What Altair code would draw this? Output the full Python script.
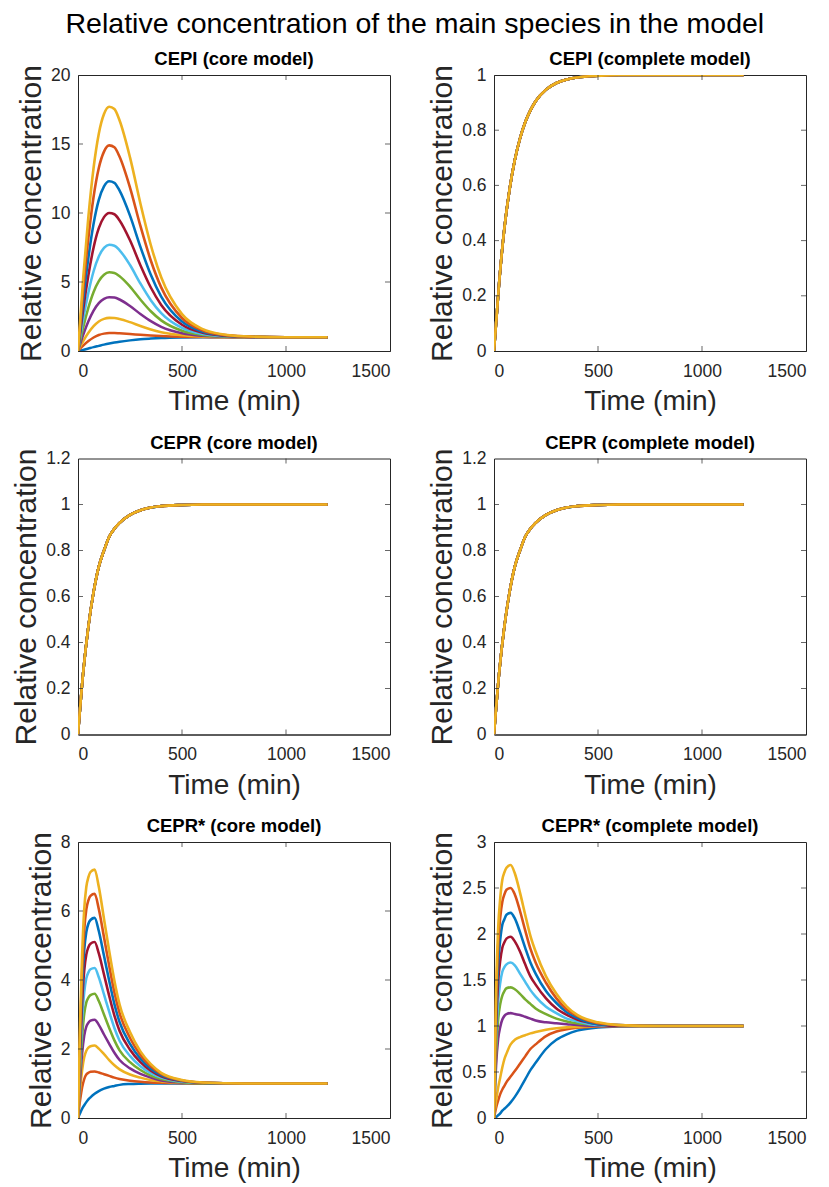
import altair as alt
import pandas as pd

# ---------------- data ----------------
SERIES = ["s01", "s02", "s03", "s04", "s05", "s06", "s07", "s08", "s09", "s10"]
COLORS = ["#0072BD", "#D95319", "#EDB120", "#7E2F8E", "#77AC30",
          "#4DBEEE", "#A2142F", "#0072BD", "#D95319", "#EDB120"]
WIDTHS = [2.5, 2.6, 2.7, 2.8, 3.0, 3.2, 3.4, 3.6, 3.8, 4.2]
X_TICKS = [0, 500, 1000, 1500]

# CEPI (core model)
T_CEPI_CORE = [0, 25, 50, 75, 100, 125, 150, 175, 200, 250, 300, 350, 400, 500, 600, 700, 800, 1000, 1200]
CEPI_CORE = [
    [0, 0.08, 0.18, 0.28, 0.37, 0.46, 0.54, 0.61, 0.67, 0.77, 0.85, 0.9, 0.94, 0.98, 0.995, 1, 1, 1, 1],
    [0, 0.39, 0.72, 0.98, 1.16, 1.26, 1.3, 1.3, 1.28, 1.23, 1.17, 1.12, 1.08, 1.03, 1.01, 1.0, 1.0, 1.0, 1.0],
    [0, 0.72, 1.32, 1.8, 2.14, 2.33, 2.4, 2.39, 2.32, 2.09, 1.81, 1.56, 1.36, 1.14, 1.05, 1.02, 1.01, 1.0, 1.0],
    [0, 1.17, 2.15, 2.93, 3.47, 3.78, 3.9, 3.87, 3.73, 3.26, 2.68, 2.16, 1.75, 1.29, 1.1, 1.03, 1.01, 1.0, 1.0],
    [0, 1.71, 3.14, 4.28, 5.07, 5.53, 5.7, 5.65, 5.42, 4.67, 3.73, 2.88, 2.22, 1.47, 1.16, 1.06, 1.02, 1.0, 1.0],
    [0, 2.31, 4.24, 5.78, 6.85, 7.47, 7.7, 7.63, 7.3, 6.23, 4.89, 3.68, 2.74, 1.67, 1.23, 1.08, 1.03, 1.0, 1.0],
    [0, 3.0, 5.5, 7.5, 8.9, 9.7, 10.0, 9.91, 9.46, 8.02, 6.22, 4.6, 3.34, 1.9, 1.32, 1.11, 1.04, 1.0, 1.0],
    [0, 3.69, 6.77, 9.23, 10.95, 11.93, 12.3, 12.19, 11.62, 9.81, 7.55, 5.52, 3.94, 2.13, 1.4, 1.14, 1.05, 1.0, 1.0],
    [0, 4.47, 8.2, 11.18, 13.26, 14.45, 14.9, 14.76, 14.07, 11.84, 9.06, 6.56, 4.61, 2.39, 1.49, 1.17, 1.06, 1.0, 1.0],
    [0, 5.31, 9.74, 13.28, 15.75, 17.17, 17.7, 17.53, 16.7, 14.03, 10.69, 7.68, 5.34, 2.67, 1.58, 1.2, 1.07, 1.0, 1.0],
]

# CEPI (complete model): all ten runs coincide
T_SAT = [0, 25, 50, 75, 100, 125, 150, 175, 200, 250, 300, 350, 400, 500, 600, 800, 1000, 1200]
CEPI_COMPLETE_RUN = [0, 0.25, 0.445, 0.586, 0.692, 0.77, 0.829, 0.872, 0.905, 0.947, 0.971, 0.984, 0.991, 0.997, 1, 1, 1, 1]
# CEPR (core and complete model): all ten runs coincide
CEPR_CORE_RUN = [0, 0.27, 0.47, 0.62, 0.73, 0.8, 0.86, 0.895, 0.92, 0.955, 0.975, 0.987, 0.993, 0.998, 1, 1, 1, 1]
CEPR_COMPLETE_RUN = [0, 0.27, 0.47, 0.62, 0.73, 0.8, 0.86, 0.895, 0.92, 0.955, 0.975, 0.987, 0.993, 0.998, 1, 1, 1, 1]

# CEPR* (core model)
T_CEPRS = [0, 10, 20, 30, 40, 50, 60, 80, 100, 125, 150, 175, 200, 250, 300, 350, 400, 500, 600, 800, 1000, 1200]
CEPRS_CORE = [
    [0, 0.14, 0.27, 0.37, 0.46, 0.54, 0.6, 0.7, 0.78, 0.85, 0.9, 0.93, 0.96, 0.985, 0.995, 1, 1, 1, 1, 1, 1, 1],
    [0, 0.51, 0.89, 1.13, 1.26, 1.31, 1.34, 1.35, 1.32, 1.27, 1.22, 1.17, 1.13, 1.08, 1.05, 1.03, 1.02, 1.01, 1.0, 1, 1, 1],
    [0, 0.8, 1.39, 1.76, 1.95, 2.04, 2.08, 2.1, 2.01, 1.85, 1.68, 1.53, 1.41, 1.26, 1.17, 1.1, 1.06, 1.02, 1.01, 1, 1, 1],
    [0, 1.08, 1.88, 2.39, 2.65, 2.76, 2.82, 2.85, 2.7, 2.42, 2.15, 1.89, 1.68, 1.44, 1.28, 1.17, 1.09, 1.03, 1.01, 1, 1, 1],
    [0, 1.37, 2.38, 3.02, 3.35, 3.49, 3.56, 3.6, 3.39, 3.0, 2.61, 2.25, 1.96, 1.62, 1.39, 1.23, 1.13, 1.04, 1.01, 1, 1, 1],
    [0, 1.65, 2.87, 3.65, 4.05, 4.22, 4.31, 4.35, 4.08, 3.58, 3.08, 2.61, 2.24, 1.8, 1.5, 1.3, 1.17, 1.05, 1.02, 1, 1, 1],
    [0, 1.94, 3.37, 4.28, 4.74, 4.95, 5.05, 5.1, 4.77, 4.16, 3.54, 2.97, 2.52, 1.98, 1.62, 1.37, 1.21, 1.07, 1.02, 1, 1, 1],
    [0, 2.2, 3.83, 4.87, 5.39, 5.63, 5.74, 5.8, 5.42, 4.7, 3.98, 3.3, 2.78, 2.15, 1.72, 1.43, 1.24, 1.08, 1.02, 1, 1, 1],
    [0, 2.47, 4.29, 5.46, 6.05, 6.31, 6.44, 6.5, 6.06, 5.24, 4.41, 3.64, 3.04, 2.32, 1.83, 1.5, 1.28, 1.09, 1.03, 1, 1, 1],
    [0, 2.74, 4.75, 6.05, 6.7, 6.98, 7.13, 7.2, 6.7, 5.77, 4.84, 3.98, 3.29, 2.49, 1.93, 1.56, 1.31, 1.1, 1.03, 1, 1, 1],
]

# CEPR* (complete model)
CEPRS_COMPLETE = [
    [0, 0.01, 0.03, 0.05, 0.08, 0.1, 0.12, 0.17, 0.23, 0.32, 0.42, 0.52, 0.6, 0.75, 0.85, 0.91, 0.95, 0.985, 0.995, 1, 1, 1],
    [0, 0.11, 0.19, 0.26, 0.31, 0.35, 0.39, 0.45, 0.51, 0.59, 0.67, 0.75, 0.8, 0.89, 0.94, 0.965, 0.98, 0.995, 1, 1, 1, 1],
    [0, 0.18, 0.33, 0.44, 0.55, 0.64, 0.7, 0.8, 0.85, 0.88, 0.9, 0.92, 0.935, 0.96, 0.975, 0.985, 0.99, 1, 1, 1, 1, 1],
    [0, 0.57, 0.86, 0.99, 1.07, 1.11, 1.13, 1.14, 1.13, 1.12, 1.1, 1.08, 1.06, 1.04, 1.03, 1.02, 1.01, 1.0, 1.0, 1, 1, 1],
    [0, 0.71, 1.07, 1.24, 1.33, 1.38, 1.41, 1.42, 1.4, 1.35, 1.29, 1.24, 1.19, 1.13, 1.08, 1.05, 1.03, 1.01, 1.0, 1, 1, 1],
    [0, 0.85, 1.27, 1.47, 1.59, 1.64, 1.67, 1.69, 1.66, 1.57, 1.48, 1.39, 1.32, 1.21, 1.14, 1.08, 1.05, 1.01, 1.0, 1, 1, 1],
    [0, 0.99, 1.48, 1.71, 1.85, 1.91, 1.95, 1.97, 1.92, 1.81, 1.67, 1.54, 1.45, 1.3, 1.19, 1.12, 1.07, 1.02, 1.0, 1, 1, 1],
    [0, 1.12, 1.67, 1.94, 2.1, 2.16, 2.21, 2.23, 2.17, 2.02, 1.85, 1.69, 1.57, 1.38, 1.25, 1.15, 1.09, 1.02, 1.01, 1, 1, 1],
    [0, 1.25, 1.88, 2.18, 2.35, 2.43, 2.48, 2.5, 2.43, 2.25, 2.04, 1.84, 1.69, 1.47, 1.3, 1.18, 1.11, 1.03, 1.01, 1, 1, 1],
    [0, 1.38, 2.06, 2.39, 2.59, 2.67, 2.72, 2.75, 2.66, 2.45, 2.21, 1.98, 1.81, 1.54, 1.35, 1.21, 1.12, 1.04, 1.01, 1, 1, 1],
]

Y_TICKS_CEPI_CORE = [0, 5, 10, 15, 20]
Y_TICKS_UNIT = [0, 0.2, 0.4, 0.6, 0.8, 1]
Y_TICKS_CEPR = [0, 0.2, 0.4, 0.6, 0.8, 1, 1.2]
Y_TICKS_CEPRS_CORE = [0, 2, 4, 6, 8]
Y_TICKS_CEPRS_COMPLETE = [0, 0.5, 1, 1.5, 2, 2.5, 3]

# ---------------- styling ----------------
FONT = "Liberation Sans"
AX = "#262626"
W, H = 312, 276
TICK_LEN = 5


def panel(title, times, curves, yticks):
    ydom = [yticks[0], yticks[-1]]
    rows = []
    for k, vals in enumerate(curves):
        for t, v in zip(times, vals):
            rows.append({"series": SERIES[k], "t": t, "v": v})
    df = pd.DataFrame(rows)

    xscale = alt.Scale(domain=[X_TICKS[0], X_TICKS[-1]], nice=False, zero=False)
    yscale = alt.Scale(domain=ydom, nice=False, zero=False)
    xaxis = alt.Axis(values=X_TICKS, title="Time (min)", format="d", ticks=False)
    yaxis = alt.Axis(values=yticks, title="Relative concentration", format="~g", ticks=False)

    lines = alt.Chart(df).mark_line(interpolate="monotone", clip=True).encode(
        x=alt.X("t:Q", scale=xscale, axis=xaxis),
        y=alt.Y("v:Q", scale=yscale, axis=yaxis),
        color=alt.Color("series:N", scale=alt.Scale(domain=SERIES, range=COLORS), legend=None),
        strokeWidth=alt.StrokeWidth("series:N", scale=alt.Scale(domain=SERIES, range=WIDTHS), legend=None),
    )

    xt = pd.DataFrame({"t": X_TICKS[1:-1]})
    yt = pd.DataFrame({"v": yticks[1:-1]})
    tick_style = dict(color=AX, thickness=1, size=TICK_LEN)
    bottom = alt.Chart(xt).mark_tick(orient="vertical", yOffset=-TICK_LEN / 2, **tick_style).encode(
        x=alt.X("t:Q", scale=xscale, axis=xaxis),
        y=alt.YDatum(ydom[0], type="quantitative", scale=yscale, axis=yaxis))
    top = alt.Chart(xt).mark_tick(orient="vertical", yOffset=TICK_LEN / 2, **tick_style).encode(
        x=alt.X("t:Q", scale=xscale, axis=xaxis),
        y=alt.YDatum(ydom[1], type="quantitative", scale=yscale, axis=yaxis))
    left = alt.Chart(yt).mark_tick(orient="horizontal", xOffset=TICK_LEN / 2, **tick_style).encode(
        y=alt.Y("v:Q", scale=yscale, axis=yaxis),
        x=alt.XDatum(X_TICKS[0], type="quantitative", scale=xscale, axis=xaxis))
    right = alt.Chart(yt).mark_tick(orient="horizontal", xOffset=-TICK_LEN / 2, **tick_style).encode(
        y=alt.Y("v:Q", scale=yscale, axis=yaxis),
        x=alt.XDatum(X_TICKS[-1], type="quantitative", scale=xscale, axis=xaxis))

    return alt.layer(lines, bottom, top, left, right).properties(
        width=W, height=H,
        title=alt.TitleParams(title, fontSize=18.5, fontWeight="bold", font=FONT, color="black", offset=-4),
    )


p1 = panel("CEPI (core model)", T_CEPI_CORE, CEPI_CORE, Y_TICKS_CEPI_CORE)
p2 = panel("CEPI (complete model)", T_SAT, [CEPI_COMPLETE_RUN] * 10, Y_TICKS_UNIT)
p3 = panel("CEPR (core model)", T_SAT, [CEPR_CORE_RUN] * 10, Y_TICKS_CEPR)
p4 = panel("CEPR (complete model)", T_SAT, [CEPR_COMPLETE_RUN] * 10, Y_TICKS_CEPR)
p5 = panel("CEPR* (core model)", T_CEPRS, CEPRS_CORE, Y_TICKS_CEPRS_CORE)
p6 = panel("CEPR* (complete model)", T_CEPRS, CEPRS_COMPLETE, Y_TICKS_CEPRS_COMPLETE)

row1 = alt.hconcat(p1, p2, spacing=36)
row2 = alt.hconcat(p3, p4, spacing=36)
row3 = alt.hconcat(p5, p6, spacing=36)

chart = alt.vconcat(row1, row2, row3, spacing=16.5).properties(
    title=alt.TitleParams("Relative concentration of the main species in the model",
                          fontSize=28.5, fontWeight="normal", font=FONT, color="black",
                          anchor="middle", offset=11, dx=6),
    padding={"left": 3, "top": 2, "right": 0, "bottom": 0},
).configure_view(
    stroke=AX, strokeWidth=1
).configure_axis(
    domainColor=AX, labelColor=AX, titleColor=AX, labelFont=FONT, titleFont=FONT,
    labelFontSize=17.5, titleFontSize=28, titleFontWeight="normal", grid=False,
).configure_axisY(
    titleFontSize=30, titlePadding=4, labelPadding=8,
).configure_axisX(
    titlePadding=8, labelPadding=11,
)

chart.save("out.html", embed_options={"renderer": "svg", "actions": False})
